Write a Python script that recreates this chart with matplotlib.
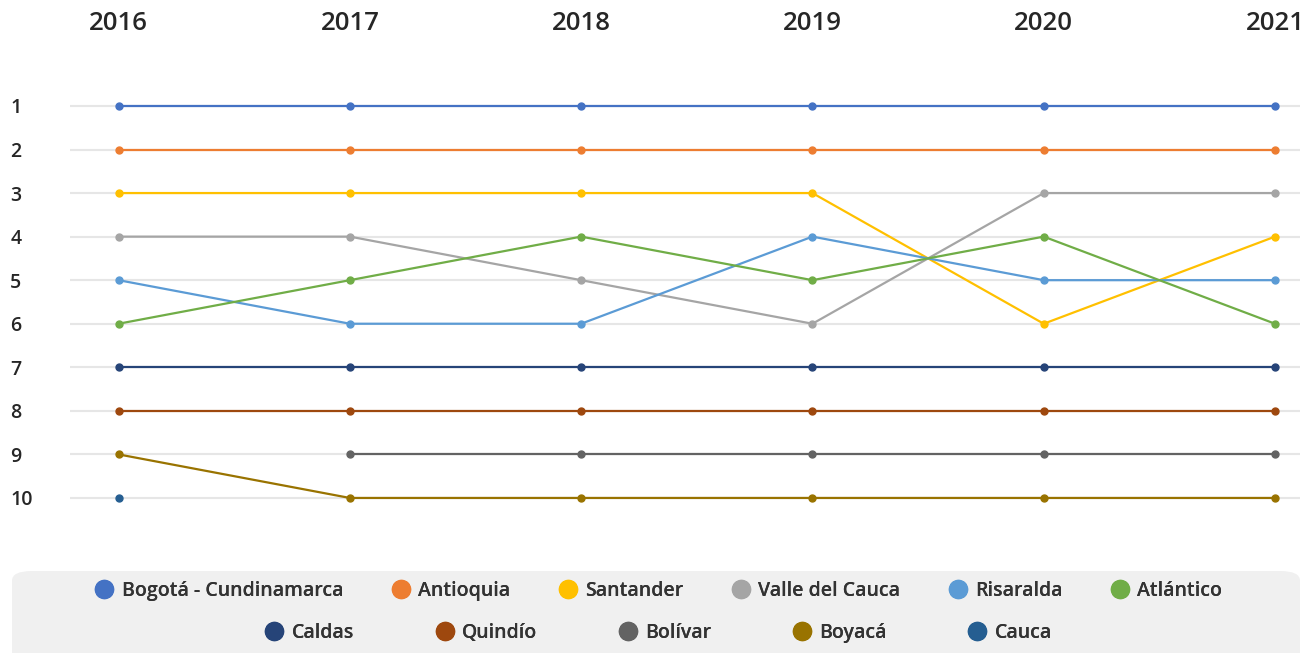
import numpy as np
import matplotlib.pyplot as plt
from matplotlib.patches import FancyBboxPatch
from matplotlib.lines import Line2D

# Ranking por año (None = sin dato)
years = [2016, 2017, 2018, 2019, 2020, 2021]
names = ["Bogotá - Cundinamarca", "Antioquia", "Santander", "Valle del Cauca",
         "Risaralda", "Atlántico", "Caldas", "Quindío", "Bolívar", "Boyacá", "Cauca"]
bogota = [1, 1, 1, 1, 1, 1]
antioquia = [2, 2, 2, 2, 2, 2]
santander = [3, 3, 3, 3, 6, 4]
valle = [4, 4, 5, 6, 3, 3]
risaralda = [5, 6, 6, 4, 5, 5]
atlantico = [6, 5, 4, 5, 4, 6]
caldas = [7, 7, 7, 7, 7, 7]
quindio = [8, 8, 8, 8, 8, 8]
bolivar = [None, 9, 9, 9, 9, 9]
boyaca = [9, 10, 10, 10, 10, 10]
cauca = [10, None, None, None, None, None]
series = [bogota, antioquia, santander, valle, risaralda, atlantico,
          caldas, quindio, bolivar, boyaca, cauca]
colors = ["#4472C4", "#ED7D31", "#FFC000", "#A5A5A5", "#5B9BD5", "#70AD47",
          "#264478", "#9E480E", "#636363", "#997300", "#255E91"]
ranks = list(range(1, 11))

W, H = 1313, 653
fig = plt.figure(figsize=(W / 100, H / 100), dpi=100)
ax = fig.add_axes([70 / W, 1 - 545 / H, (1300 - 70) / W, (545 - 60) / H])

# gridlines
for r in ranks:
    ax.axhline(r, color="#E6E6E6", lw=1.5, zorder=0)

for vals, c, n in zip(series, colors, names):
    y = np.array([np.nan if v is None else v for v in vals], dtype=float)
    ax.plot(years, y, color=c, lw=1.6, marker="o", ms=5, label=n, zorder=3)

ax.set_xlim(2015.79, 2021.108)
ax.set_ylim(11.08, -0.055)
for s in ax.spines.values():
    s.set_visible(False)

ax.set_xticks(years)
ax.xaxis.tick_top()
ax.tick_params(axis="x", length=0, pad=17, labelsize=18.5, labelcolor="#262626")
ax.set_yticks(ranks)
ax.tick_params(axis="y", length=0, pad=43, labelsize=14, labelcolor="#262626")
for lbl in ax.get_xticklabels() + ax.get_yticklabels():
    lbl.set_fontfamily("Open Sans")
    lbl.set_fontweight("semibold")
for lbl in ax.get_yticklabels():
    lbl.set_horizontalalignment("left")

# legend background
bg = FancyBboxPatch((12 / W, -0.05), (1300 - 12) / W, (653 - 571) / H + 0.05,
                    boxstyle="round,pad=0,rounding_size=0.015",
                    transform=fig.transFigure, facecolor="#F0F0F0",
                    edgecolor="none", zorder=0)
fig.patches.append(bg)

def make_handles(idx):
    return [Line2D([], [], ls="", marker="o", ms=13, color=colors[i]) for i in idx]

rows = [list(range(0, 6)), list(range(6, 11))]
centers = [1 - 591 / H, 1 - 633 / H]
spacing = [2.2, 3.9]
for idx, yc, sp in zip(rows, centers, spacing):
    leg = fig.legend(make_handles(idx), [names[i] for i in idx], loc="center",
                     bbox_to_anchor=(656 / W, yc), ncol=len(idx), frameon=False,
                     handletextpad=0.15, columnspacing=sp, handlelength=1.5,
                     prop={"family": "Open Sans", "size": 14, "weight": "semibold"})
    for t in leg.get_texts():
        t.set_color("#333333")
    fig.add_artist(leg)

fig.savefig("out.png", dpi=100)
